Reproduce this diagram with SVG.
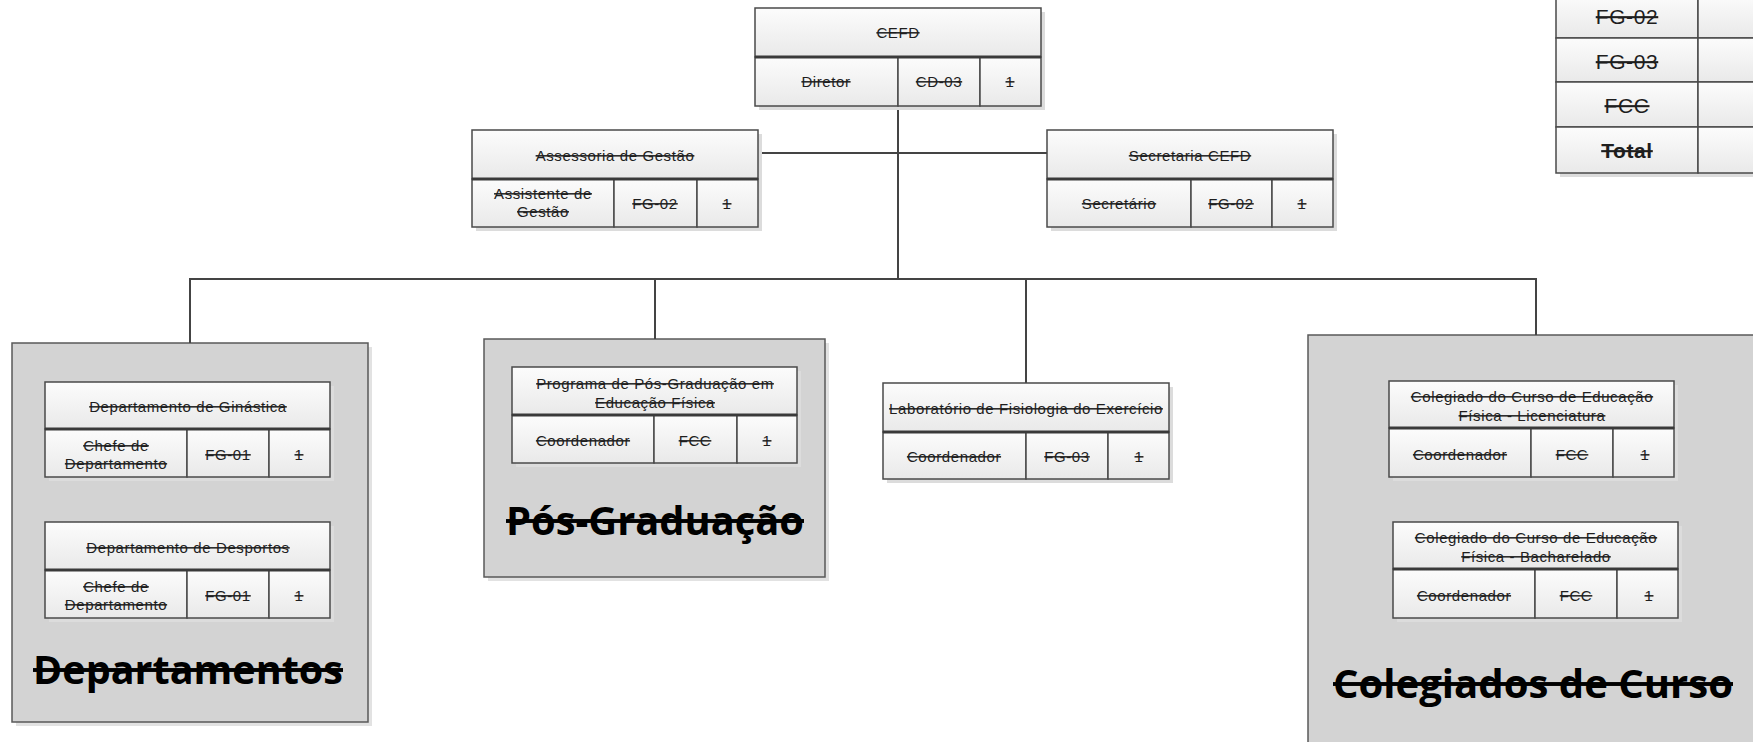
<svg xmlns="http://www.w3.org/2000/svg" width="1753" height="742" viewBox="0 0 1753 742">
<defs>
<linearGradient id="g" x1="0" y1="0" x2="0" y2="1">
<stop offset="0" stop-color="#fcfcfc"/>
<stop offset="1" stop-color="#e9e9e9"/>
</linearGradient>
<style>
.sh{fill:#dcdcdc}
.c{fill:url(#g);stroke:#4a4a4a;stroke-width:1.5}
.dv{stroke:#3a3a3a;stroke-width:3}
.t{font-family:"Liberation Sans",Arial,sans-serif;font-size:15px;letter-spacing:0.6px;fill:#1e1e1e;text-anchor:middle;dominant-baseline:central;text-decoration:line-through}
.tb{font-family:"Liberation Sans",Arial,sans-serif;font-size:21px;letter-spacing:0.6px;fill:#1e1e1e;text-anchor:middle;dominant-baseline:central;text-decoration:line-through}
.grp{fill:#d3d3d3;stroke:#595959;stroke-width:1.5}
.gsh{fill:#e2e2e2}
.big{font-family:"Open Sans",sans-serif;font-weight:700;font-size:39px;fill:#000;text-anchor:middle;text-decoration:line-through}
.conn{stroke:#444;stroke-width:2;fill:none}
</style>
</defs>
<rect width="1753" height="742" fill="#fff"/>

<g id="grp-departamentos">
<rect class="gsh" x="16" y="347" width="356" height="379"/>
<rect class="grp" x="12" y="343" width="356" height="379"/>
<text class="big" x="188" y="684" textLength="310" lengthAdjust="spacingAndGlyphs">Departamentos</text>
</g>
<g id="grp-posgraduacao">
<rect class="gsh" x="488" y="343" width="341" height="238"/>
<rect class="grp" x="484" y="339" width="341" height="238"/>
<text class="big" x="655" y="535" textLength="298" lengthAdjust="spacingAndGlyphs">Pós-Graduação</text>
</g>
<g id="grp-colegiados">
<rect class="gsh" x="1312" y="339" width="500" height="450"/>
<rect class="grp" x="1308" y="335" width="500" height="450"/>
<text class="big" x="1533" y="698" textLength="400" lengthAdjust="spacingAndGlyphs">Colegiados de Curso</text>
</g>

<g id="connectors">
<path class="conn" d="M898 106V279"/>
<path class="conn" d="M758 153H1047"/>
<path class="conn" d="M190 279H1536"/>
<path class="conn" d="M190 278V343"/>
<path class="conn" d="M655 278V339"/>
<path class="conn" d="M1026 278V383"/>
<path class="conn" d="M1536 278V335"/>
</g>

<g id="n-cefd">
<rect class="sh" x="759" y="12" width="286" height="98"/>
<rect class="c" x="755" y="8" width="286" height="49"/>
<rect class="c" x="755" y="57" width="143" height="49"/>
<rect class="c" x="898" y="57" width="82" height="49"/>
<rect class="c" x="980" y="57" width="61" height="49"/>
<line class="dv" x1="755" y1="57" x2="1041" y2="57"/>
<text class="t" x="898" y="32">CEFD</text>
<text class="t" x="826" y="81">Diretor</text>
<text class="t" x="939" y="81">CD-03</text>
<text class="t" x="1010" y="81">1</text>
</g>

<g id="n-assessoria">
<rect class="sh" x="476" y="134" width="286" height="97"/>
<rect class="c" x="472" y="130" width="286" height="49"/>
<rect class="c" x="472" y="179" width="142" height="48"/>
<rect class="c" x="614" y="179" width="83" height="48"/>
<rect class="c" x="697" y="179" width="61" height="48"/>
<line class="dv" x1="472" y1="179" x2="758" y2="179"/>
<text class="t" x="615" y="155">Assessoria de Gestão</text>
<text class="t" x="543" y="193">Assistente de</text>
<text class="t" x="543" y="211">Gestão</text>
<text class="t" x="655" y="203">FG-02</text>
<text class="t" x="727" y="203">1</text>
</g>

<g id="n-secretaria">
<rect class="sh" x="1051" y="134" width="286" height="97"/>
<rect class="c" x="1047" y="130" width="286" height="49"/>
<rect class="c" x="1047" y="179" width="144" height="48"/>
<rect class="c" x="1191" y="179" width="81" height="48"/>
<rect class="c" x="1272" y="179" width="61" height="48"/>
<line class="dv" x1="1047" y1="179" x2="1333" y2="179"/>
<text class="t" x="1190" y="155">Secretaria CEFD</text>
<text class="t" x="1119" y="203">Secretário</text>
<text class="t" x="1231" y="203">FG-02</text>
<text class="t" x="1302" y="203">1</text>
</g>

<g id="n-ginastica">
<rect class="sh" x="49" y="386" width="285" height="95"/>
<rect class="c" x="45" y="382" width="285" height="47"/>
<rect class="c" x="45" y="429" width="142" height="48"/>
<rect class="c" x="187" y="429" width="82" height="48"/>
<rect class="c" x="269" y="429" width="61" height="48"/>
<line class="dv" x1="45" y1="429" x2="330" y2="429"/>
<text class="t" x="188" y="406">Departamento de Ginástica</text>
<text class="t" x="116" y="445">Chefe de</text>
<text class="t" x="116" y="463">Departamento</text>
<text class="t" x="228" y="454">FG-01</text>
<text class="t" x="299" y="454">1</text>
</g>

<g id="n-desportos">
<rect class="sh" x="49" y="526" width="285" height="96"/>
<rect class="c" x="45" y="522" width="285" height="48"/>
<rect class="c" x="45" y="570" width="142" height="48"/>
<rect class="c" x="187" y="570" width="82" height="48"/>
<rect class="c" x="269" y="570" width="61" height="48"/>
<line class="dv" x1="45" y1="570" x2="330" y2="570"/>
<text class="t" x="188" y="547">Departamento de Desportos</text>
<text class="t" x="116" y="586">Chefe de</text>
<text class="t" x="116" y="604">Departamento</text>
<text class="t" x="228" y="595">FG-01</text>
<text class="t" x="299" y="595">1</text>
</g>

<g id="n-ppg">
<rect class="sh" x="516" y="371" width="285" height="96"/>
<rect class="c" x="512" y="367" width="285" height="48"/>
<rect class="c" x="512" y="415" width="142" height="48"/>
<rect class="c" x="654" y="415" width="83" height="48"/>
<rect class="c" x="737" y="415" width="60" height="48"/>
<line class="dv" x1="512" y1="415" x2="797" y2="415"/>
<text class="t" x="655" y="383">Programa de Pós-Graduação em</text>
<text class="t" x="655" y="402">Educação Física</text>
<text class="t" x="583" y="440">Coordenador</text>
<text class="t" x="695" y="440">FCC</text>
<text class="t" x="767" y="440">1</text>
</g>

<g id="n-lab">
<rect class="sh" x="887" y="387" width="286" height="96"/>
<rect class="c" x="883" y="383" width="286" height="49"/>
<rect class="c" x="883" y="432" width="143" height="47"/>
<rect class="c" x="1026" y="432" width="82" height="47"/>
<rect class="c" x="1108" y="432" width="61" height="47"/>
<line class="dv" x1="883" y1="432" x2="1169" y2="432"/>
<text class="t" x="1026" y="408">Laboratório de Fisiologia do Exercício</text>
<text class="t" x="954" y="456">Coordenador</text>
<text class="t" x="1067" y="456">FG-03</text>
<text class="t" x="1139" y="456">1</text>
</g>

<g id="n-licenciatura">
<rect class="sh" x="1393" y="385" width="285" height="96"/>
<rect class="c" x="1389" y="381" width="285" height="47"/>
<rect class="c" x="1389" y="428" width="142" height="49"/>
<rect class="c" x="1531" y="428" width="82" height="49"/>
<rect class="c" x="1613" y="428" width="61" height="49"/>
<line class="dv" x1="1389" y1="428" x2="1674" y2="428"/>
<text class="t" x="1532" y="396">Colegiado do Curso de Educação</text>
<text class="t" x="1532" y="415">Física - Licenciatura</text>
<text class="t" x="1460" y="454">Coordenador</text>
<text class="t" x="1572" y="454">FCC</text>
<text class="t" x="1645" y="454">1</text>
</g>

<g id="n-bacharelado">
<rect class="sh" x="1397" y="526" width="285" height="96"/>
<rect class="c" x="1393" y="522" width="285" height="47"/>
<rect class="c" x="1393" y="569" width="142" height="49"/>
<rect class="c" x="1535" y="569" width="82" height="49"/>
<rect class="c" x="1617" y="569" width="61" height="49"/>
<line class="dv" x1="1393" y1="569" x2="1678" y2="569"/>
<text class="t" x="1536" y="537">Colegiado do Curso de Educação</text>
<text class="t" x="1536" y="556">Física - Bacharelado</text>
<text class="t" x="1464" y="595">Coordenador</text>
<text class="t" x="1576" y="595">FCC</text>
<text class="t" x="1649" y="595">1</text>
</g>

<g id="n-table">
<rect class="sh" x="1560" y="-2" width="250" height="179"/>
<rect class="c" x="1556" y="-6" width="142" height="44"/>
<rect class="c" x="1698" y="-6" width="120" height="44"/>
<rect class="c" x="1556" y="38" width="142" height="44"/>
<rect class="c" x="1698" y="38" width="120" height="44"/>
<rect class="c" x="1556" y="82" width="142" height="45"/>
<rect class="c" x="1698" y="82" width="120" height="45"/>
<rect class="c" x="1556" y="127" width="142" height="46"/>
<rect class="c" x="1698" y="127" width="120" height="46"/>
<text class="tb" x="1627" y="16">FG-02</text>
<text class="tb" x="1627" y="61">FG-03</text>
<text class="tb" x="1627" y="105">FCC</text>
<text class="tb" x="1627" y="150" font-weight="700">Total</text>
</g>
</svg>
